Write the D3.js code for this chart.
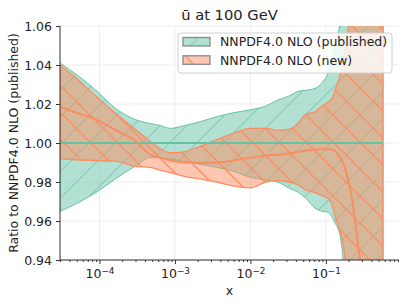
<!DOCTYPE html>
<html>
<head>
<meta charset="utf-8">
<script src="https://d3js.org/d3.v7.min.js"></script>
<style>
  body { margin: 0; background: #fff; }
  text { font-family: "DejaVu Sans", sans-serif; fill: #222; }
  .axis path, .axis line { stroke: #333; }
</style>
</head>
<body>
<svg id="chart" width="407" height="306"></svg>
<script>
// x grid of the ratio curves
var xs = [3e-5, 5e-5, 9e-5, 1.6e-4, 3e-4, 4.7e-4, 6.4e-4, 8.7e-4, 1.3e-3, 2.2e-3,
          3.6e-3, 5.9e-3, 1e-2, 1.6e-2, 2.3e-2, 3.2e-2, 4.3e-2, 5.3e-2, 7.2e-2, 8.9e-2,
          0.107, 0.121, 0.132, 0.145, 0.154, 0.169, 0.18, 0.197, 0.222, 0.251,
          0.283, 0.33, 0.384, 0.57];

// published band (ratio to itself)
var pubHi = [1.041, 1.035, 1.027, 1.018, 1.012, 1.010, 1.009, 1.0075, 1.0088, 1.011,
             1.0135, 1.0155, 1.017, 1.019, 1.022, 1.024, 1.0265, 1.027, 1.028, 1.031,
             1.036, 1.043, 1.05, 1.056, 1.062, 1.08, 1.1, 1.13, 1.16, 1.2,
             1.22, 1.25, 1.28, 1.3];
var pubLo = [0.965, 0.969, 0.9746, 0.9814, 0.9882, 0.9925, 0.9925, 0.9918, 0.9907, 0.989,
             0.9875, 0.9856, 0.9824, 0.981, 0.980, 0.977, 0.9747, 0.972, 0.9665, 0.965,
             0.9645, 0.962, 0.959, 0.956, 0.9525, 0.94, 0.925, 0.91, 0.9, 0.88,
             0.86, 0.84, 0.82, 0.8];

// new fit
var newCv = [1.0185, 1.0155, 1.012, 1.0069, 1.001, 0.994, 0.9925, 0.991, 0.990, 0.9898,
             0.990, 0.991, 0.9925, 0.9935, 0.994, 0.9945, 0.9955, 0.996, 0.9967, 0.9968,
             0.9968, 0.9966, 0.996, 0.994, 0.9925, 0.990, 0.987, 0.981, 0.971, 0.956,
             0.94, 0.92, 0.90, 0.85];
var newHi = [1.040, 1.033, 1.024, 1.0155, 1.0069, 1.0008, 0.997, 0.995, 0.9955, 0.9984,
             1.0017, 1.005, 1.0075, 1.0075, 1.0065, 1.007, 1.010, 1.0145, 1.016, 1.019,
             1.021, 1.023, 1.027, 1.0316, 1.035, 1.04, 1.047, 1.058, 1.08, 1.1,
             1.13, 1.16, 1.2, 1.25];
var newLo = [0.9919, 0.9914, 0.991, 0.9907, 0.988, 0.9875, 0.986, 0.9848, 0.983, 0.9815,
             0.980, 0.978, 0.977, 0.980, 0.9808, 0.980, 0.9785, 0.976, 0.9746, 0.973,
             0.9715, 0.968, 0.9625, 0.958, 0.955, 0.948, 0.94, 0.925, 0.90, 0.89,
             0.87, 0.85, 0.83, 0.8];

var yTicks = [0.94, 0.96, 0.98, 1.00, 1.02, 1.04, 1.06];
var xMajor = [1e-4, 1e-3, 1e-2, 1e-1];
var xExp = ["\u22124", "\u22123", "\u22122", "\u22121"];
var names = ["NNPDF4.0 NLO (published)", "NNPDF4.0 NLO (new)"];

var green = "#66c2a5", orange = "#fc8d62";
var L = 60, R = 399, T = 26, B = 260;

var svg = d3.select("#chart");

var x = d3.scaleLog().domain([3e-5, 0.93]).range([L, R]);
var y = d3.scaleLinear().domain([0.94, 1.06]).range([B, T]);

var defs = svg.append("defs");
defs.append("clipPath").attr("id", "clip")
  .append("rect").attr("x", L).attr("y", T).attr("width", R - L).attr("height", B - T);

function hatch(id, color, dir, off, w) {
  var s = 27;
  var p = defs.append("pattern").attr("id", id)
    .attr("patternUnits", "userSpaceOnUse")
    .attr("width", s).attr("height", s).attr("x", off).attr("y", 0);
  var d = dir == "/"
    ? "M0," + s + "L" + s + ",0M-3,3L3,-3M" + (s - 3) + "," + (s + 3) + "L" + (s + 3) + "," + (s - 3)
    : "M0,0L" + s + "," + s + "M-3," + (s - 3) + "L3," + (s + 3) + "M" + (s - 3) + ",-3L" + (s + 3) + ",3";
  p.append("path").attr("d", d).attr("fill", "none")
    .attr("stroke", color).attr("stroke-width", w);
}
hatch("hGreen", green, "/", 15.6, 0.9);
hatch("hOrange", orange, "\\", 2, 1.3);

// minor tick values
var xMinor = [];
[1e-5, 1e-4, 1e-3, 1e-2, 1e-1].forEach(function(dec) {
  for (var k = 2; k <= 9; k++) {
    var v = k * dec;
    if (v >= 3e-5 && v <= 0.93) xMinor.push(v);
  }
});

// grid
var grid = svg.append("g");
grid.selectAll(".gx").data(xMajor).enter().append("line")
  .attr("x1", function(d) { return x(d); }).attr("x2", function(d) { return x(d); })
  .attr("y1", T).attr("y2", B).attr("stroke", "#ebebeb").attr("stroke-width", 0.9);
grid.selectAll(".gy").data(yTicks).enter().append("line")
  .attr("x1", L).attr("x2", R)
  .attr("y1", function(d) { return y(d); }).attr("y2", function(d) { return y(d); })
  .attr("stroke", "#ebebeb").attr("stroke-width", 0.9);

var plot = svg.append("g").attr("clip-path", "url(#clip)");

function band(lo, hi) {
  return d3.area()
    .x(function(d, i) { return x(xs[i]); })
    .y0(function(d, i) { return y(lo[i]); })
    .y1(function(d, i) { return y(hi[i]); })
    .curve(d3.curveMonotoneX)(xs) + "Z";
}
var line = d3.line()
  .x(function(d, i) { return x(xs[i]); })
  .y(function(d) { return y(d); })
  .curve(d3.curveMonotoneX);

var pubPath = band(pubLo, pubHi);
plot.append("path").attr("d", pubPath).attr("fill", green).attr("fill-opacity", 0.5);
plot.append("path").attr("d", pubPath).attr("fill", "url(#hGreen)");
plot.append("path").attr("d", pubPath).attr("fill", "none")
  .attr("stroke", green).attr("stroke-width", 1);

var newPath = band(newLo, newHi);
plot.append("path").attr("d", newPath).attr("fill", orange).attr("fill-opacity", 0.5);
plot.append("path").attr("d", newPath).attr("fill", "url(#hOrange)");
plot.append("path").attr("d", newPath).attr("fill", "none")
  .attr("stroke", orange).attr("stroke-width", 1.3);

// central values
plot.append("line")
  .attr("x1", x(xs[0])).attr("x2", x(xs[xs.length - 1]))
  .attr("y1", y(1)).attr("y2", y(1))
  .attr("stroke", green).attr("stroke-width", 2);
plot.append("path").attr("d", line(newCv)).attr("fill", "none")
  .attr("stroke", orange).attr("stroke-width", 2);

// axes
var gx = svg.append("g").attr("class", "axis").attr("transform", "translate(0," + B + ")")
  .call(d3.axisBottom(x).tickValues(xMajor).tickSize(4).tickPadding(5).tickSizeOuter(0));
gx.selectAll(".tick text").each(function(d, i) {
  var t = d3.select(this).text(null).style("font-size", "12.5px");
  t.append("tspan").text("10");
  t.append("tspan").attr("dy", "-0.45em").style("font-size", "8.8px").text(xExp[i]);
});
gx.select(".domain").attr("d", "M" + L + ",0H" + R);
svg.append("g").attr("class", "axis").attr("transform", "translate(0," + B + ")")
  .call(d3.axisBottom(x).tickValues(xMinor).tickSize(2).tickFormat(""))
  .select(".domain").remove();

var gy = svg.append("g").attr("class", "axis").attr("transform", "translate(" + L + ",0)")
  .call(d3.axisLeft(y).tickValues(yTicks).tickFormat(d3.format(".2f"))
    .tickSize(4).tickPadding(4).tickSizeOuter(0));
gy.selectAll(".tick text").style("font-size", "12.5px");
gy.select(".domain").attr("d", "M0," + B + "V" + T);

// labels
svg.append("text").attr("x", (L + R) / 2).attr("y", 19.5).attr("text-anchor", "middle")
  .style("font-size", "14.7px").text("\u016b at 100 GeV");
svg.append("text").attr("x", (L + R) / 2).attr("y", 295).attr("text-anchor", "middle")
  .style("font-size", "12.5px").text("x");
svg.append("text").attr("transform", "translate(17.5," + ((T + B) / 2) + ") rotate(-90)")
  .attr("text-anchor", "middle").style("font-size", "12.5px")
  .text("Ratio to NNPDF4.0 NLO (published)");

// legend
var lg = svg.append("g").attr("transform", "translate(178,33)");
lg.append("rect").attr("width", 214).attr("height", 40).attr("rx", 3)
  .attr("fill", "white").attr("fill-opacity", 0.8).attr("stroke", "#d0d0d0");
var items = lg.selectAll(".item").data(names).enter().append("g")
  .attr("transform", function(d, i) { return "translate(5," + (4.5 + i * 18.3) + ")"; });
items.append("rect").attr("width", 27).attr("height", 8.5)
  .attr("fill", function(d, i) { return i == 0 ? green : orange; }).attr("fill-opacity", 0.5);
items.append("rect").attr("width", 27).attr("height", 8.5)
  .attr("fill", function(d, i) { return i == 0 ? "url(#hGreen)" : "url(#hOrange)"; })
  .attr("stroke", "#8a8a8a").attr("stroke-width", 1.3);
items.append("text").attr("x", 37).attr("y", 8.8).style("font-size", "12.5px")
  .text(function(d) { return d; });
</script>
</body>
</html>
